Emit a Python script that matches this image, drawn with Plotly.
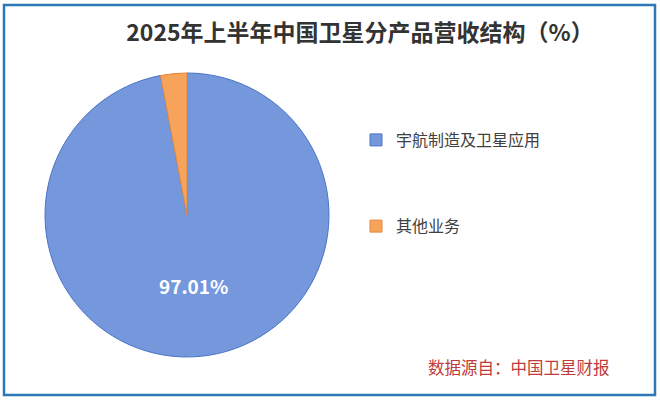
import plotly.graph_objects as go

# 数据
categories = ['宇航制造及卫星应用', '其他业务']
shares = [97.01, 2.99]
slice_text = ['97.01%', '']

colors = ['#7598dd', '#f7a35c']
line_colors = ['#4a74c6', '#e68a3c']

# 图例间距靠换行撑开
legend_labels = [categories[0] + '<br> ' * 3, categories[1]]

fig = go.Figure()

fig.add_trace(go.Pie(
    labels=legend_labels,
    values=shares,
    text=slice_text,
    textinfo='text',
    textposition='inside',
    insidetextorientation='horizontal',
    textfont=dict(family='Noto Sans CJK SC', size=19, color='white', weight='bold'),
    marker=dict(colors=colors, line=dict(color=line_colors, width=1)),
    sort=False,
    direction='clockwise',
    rotation=0,
    hoverinfo='label+percent',
    domain=dict(x=[45 / 660, 329 / 660], y=[1 - 357 / 401, 1 - 73 / 401]),
))

fig.add_shape(
    type='rect', xref='paper', yref='paper',
    x0=4 / 660, x1=655 / 660, y0=1 - 395 / 401, y1=1 - 5 / 401,
    line=dict(color='#2f78b8', width=2.5),
)

fig.add_annotation(
    text='数据源自：中国卫星财报',
    xref='paper', yref='paper', x=612 / 660, y=1 - 367 / 401,
    xanchor='right', yanchor='middle', showarrow=False,
    font=dict(family='Noto Sans CJK SC', size=16.5, color='#c0393b'),
)

fig.update_layout(
    title=dict(
        text='2025年上半年中国卫星分产品营收结构（%）',
        x=360 / 660, xanchor='center', y=1 - 33 / 401, yanchor='middle',
        font=dict(family='Noto Sans CJK SC', size=23, color='#333333', weight='bold'),
    ),
    width=660,
    height=401,
    margin=dict(l=0, r=0, t=0, b=0),
    paper_bgcolor='white',
    showlegend=True,
    legend=dict(
        x=356 / 660, xanchor='left', y=1 - 123 / 401, yanchor='top',
        valign='top',
        font=dict(family='Noto Sans CJK SC', size=16, color='#404040'),
        itemwidth=30,
    ),
)

fig.write_html('out.html', config={'displayModeBar': False},
               post_script="document.body.style.margin='0';")
